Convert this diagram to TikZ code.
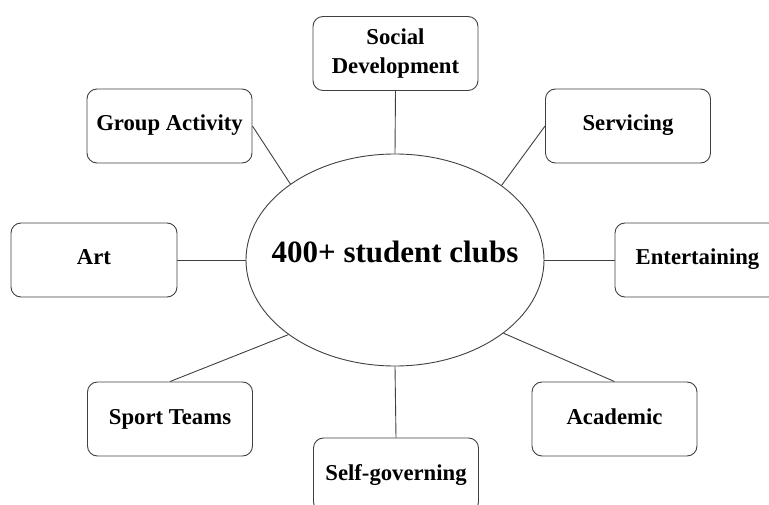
\documentclass[tikz,border=0pt]{standalone}
\usepackage{fontspec}
\setmainfont{Liberation Serif}
\usetikzlibrary{shapes.geometric}

\begin{document}
\begin{tikzpicture}[x=1pt,y=-1pt,
  clubbox/.style={draw=black!75, line width=0.9pt, rounded corners=10pt,
    minimum width=165pt, minimum height=74pt, align=center,
    text height=15pt, text depth=5pt,
    font=\fontsize{22.7}{28.3}\selectfont\bfseries},
  hub/.style={draw=black!75, line width=0.9pt, ellipse, inner sep=0pt,
    minimum width=298pt, minimum height=212pt},
  link/.style={draw=black!75, line width=0.9pt}]
\useasboundingbox (0,0) rectangle (769,505);
\node[hub] (clubs) at (395,260) {};
\node[font=\fontsize{31}{36}\selectfont\bfseries] (title) at (395,252) {400+ student clubs};
\node[clubbox, text height=, text depth=] (social) at (395.5,53.5) {Social\\Development};
\node[clubbox] (group) at (169.5,126) {Group Activity};
\node[clubbox] (serv) at (628,126) {Servicing};
\node[clubbox, minimum width=166pt] (art) at (94,260) {Art};
\node[clubbox] (ent) at (697.5,260) {Entertaining};
\node[clubbox] (sport) at (170,419) {Sport Teams};
\node[clubbox] (acad) at (614.5,419) {Academic};
\node[clubbox] (self) at (396,475) {Self-governing};
\draw[link] (social.south) -- (clubs.north);
\draw[link] (group.east) -- (clubs.144);
\draw[link] (serv.west) -- (clubs.35);
\draw[link] (art.east) -- (clubs.west);
\draw[link] (ent.west) -- (clubs.east);
\draw[link] (sport.north) -- (clubs.215);
\draw[link] (acad.north) -- (clubs.326);
\draw[link] (self.north) -- (clubs.south);
\end{tikzpicture}
\end{document}
